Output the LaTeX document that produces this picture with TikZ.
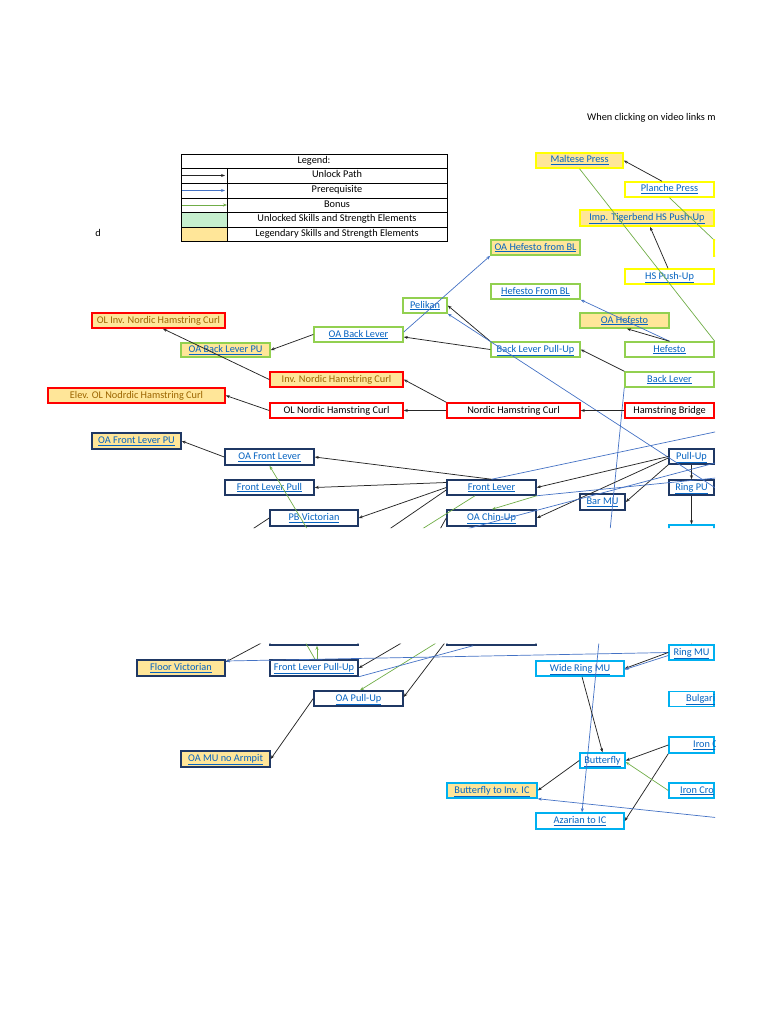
\documentclass[tikz,border=0pt]{standalone}
\usepackage{fontspec}
\setmainfont{Carlito}
\usetikzlibrary{arrows.meta,calc}
\definecolor{xgreen}{HTML}{92D050}
\definecolor{xyellow}{HTML}{FFFF00}
\definecolor{xred}{HTML}{FF0000}
\definecolor{xnavy}{HTML}{1F3864}
\definecolor{xcyan}{HTML}{00B0F0}
\definecolor{xfill}{HTML}{FFE699}
\definecolor{xgfill}{HTML}{C6EFCE}
\definecolor{xlink}{HTML}{0563C1}
\definecolor{xbrown}{HTML}{9C6500}
\definecolor{xblue}{HTML}{4472C4}
\definecolor{xgline}{HTML}{70AD47}
\newcommand\lk[1]{\textcolor{xlink}{\underline{#1}}}
\tikzset{
  bx/.style={draw, line width=1.5pt, inner sep=0pt, fill=white, text height=7pt, text depth=2pt},
  gb/.style={bx, draw=xgreen},
  yb/.style={bx, draw=xyellow},
  rb/.style={bx, draw=xred},
  nb/.style={bx, draw=xnavy},
  cb/.style={bx, draw=xcyan},
  leg/.style={fill=xfill},
  txt/.style={inner sep=0pt, text height=7pt, text depth=2pt},
  ak/.style={line width=0.75pt, draw=black!85, -{Stealth[length=4pt,width=3pt]}},
  kl/.style={line width=0.75pt, draw=black!85},
  ab/.style={line width=0.7pt, draw=xblue, -{Stealth[length=4pt,width=3pt]}},
  bl/.style={line width=0.7pt, draw=xblue},
  ag/.style={line width=0.7pt, draw=xgline, -{Stealth[length=4pt,width=3pt]}},
  gl/.style={line width=0.7pt, draw=xgline},
}
\begin{document}
\begin{tikzpicture}[x=1pt,y=-1pt,font=\fontsize{10.3}{12}\selectfont]
\useasboundingbox (0,0) rectangle (768,1024);
\begin{scope}
\clip (0,0) rectangle (715,528) (0,643.5) rectangle (715,1024);

% header texts
\node[txt, anchor=west] (hint) at (587,118) {When clicking on video links m};
\node[txt] (dd) at (98,234) {d};

% legend
\fill[xgfill] (181,212) rectangle (227,227);
\fill[xfill] (181,227) rectangle (227,241);
\draw[line width=0.8pt] (181,154) rectangle (447,241);
\foreach \yy in {168,183,198,212,227} \draw[line width=0.8pt] (181,\yy) -- (447,\yy);
\draw[line width=0.8pt] (227,168) -- (227,241);
\node[txt] (lg0) at (314,161) {Legend:};
\node[txt] (lg1) at (337,175.5) {Unlock Path};
\node[txt] (lg2) at (337,190.5) {Prerequisite};
\node[txt] (lg3) at (337,205) {Bonus};
\node[txt] (lg4) at (337,219.5) {Unlocked Skills and Strength Elements};
\node[txt] (lg5) at (337,234) {Legendary Skills and Strength Elements};
\coordinate (la1) at (182,175.5); \coordinate (lb1) at (225,175.5);
\coordinate (la2) at (182,190.5); \coordinate (lb2) at (225,190.5);
\coordinate (la3) at (182,205);   \coordinate (lb3) at (227,205);
\draw[ak] (la1) -- (lb1);
\draw[ab] (la2) -- (lb2);
\draw[ag] (la3) -- (lb3);

% yellow group
\node[yb, leg, minimum width=87pt, minimum height=15pt] (maltese) at (579.5,160.5) {\lk{Maltese Press}};
\node[yb, minimum width=89pt, minimum height=15pt] (planche) at (669.5,189.5) {\lk{Planche Press}};
\node[yb, leg, minimum width=134pt, minimum height=16pt] (imp) at (647,218) {\lk{Imp. Tigerbend HS Push-Up}};
\node[yb, minimum width=89pt, minimum height=15pt] (hs) at (669.5,276.5) {\lk{HS Push-Up}};
\node[yb, minimum width=89pt, minimum height=16pt] (yclip) at (758.5,248) {};

% green group
\node[gb, leg, minimum width=89pt, minimum height=15pt] (oahbl) at (535.5,247.5) {\lk{OA Hefesto from BL}};
\node[gb, minimum width=89pt, minimum height=15pt] (hfbl) at (535.5,291.5) {\lk{Hefesto From BL}};
\node[gb, minimum width=44pt, minimum height=15pt] (pelikan) at (425,305.5) {\lk{Pelikan}};
\node[gb, leg, minimum width=89pt, minimum height=15pt] (oah) at (624.5,320.5) {\lk{OA Hefesto}};
\node[gb, minimum width=89pt, minimum height=15pt] (oabl) at (358.5,334.5) {\lk{OA Back Lever}};
\node[gb, leg, minimum width=89pt, minimum height=14pt] (oablpu) at (225.5,350) {\lk{OA Back Lever PU}};
\node[gb, minimum width=89pt, minimum height=15pt] (blpu) at (535.5,349.5) {\lk{Back Lever Pull-Up}};
\node[gb, minimum width=89pt, minimum height=15pt] (hefesto) at (669.5,349.5) {\lk{Hefesto}};
\node[gb, minimum width=89pt, minimum height=15pt] (backlever) at (669.5,379.5) {\lk{Back Lever}};

% red group
\node[rb, leg, text=xbrown, minimum width=133pt, minimum height=15pt] (olinv) at (158.5,320.5) {OL Inv. Nordic Hamstring Curl};
\node[rb, leg, text=xbrown, minimum width=133pt, minimum height=15pt] (invn) at (336.5,379.5) {Inv. Nordic Hamstring Curl};
\node[rb, leg, text=xbrown, minimum width=177pt, minimum height=15pt] (elev) at (136.5,395.5) {Elev. OL Nodrdic Hamstring Curl};
\node[rb, minimum width=133pt, minimum height=15pt] (olnordic) at (336.5,410.5) {OL Nordic Hamstring Curl};
\node[rb, minimum width=133pt, minimum height=15pt] (nordic) at (513.5,410.5) {Nordic Hamstring Curl};
\node[rb, minimum width=89pt, minimum height=15pt] (hb) at (669.5,410.5) {Hamstring Bridge};

% navy group
\node[nb, leg, minimum width=89pt, minimum height=16pt] (oaflpu) at (136.5,441) {\lk{OA Front Lever PU}};
\node[nb, minimum width=89pt, minimum height=16pt] (oafl) at (269.5,457) {\lk{OA Front Lever}};
\node[nb, minimum width=89pt, minimum height=15pt] (flp) at (269.5,487.5) {\lk{Front Lever Pull}};
\node[nb, minimum width=88pt, minimum height=16pt] (pbv) at (314,518) {\lk{PB Victorian}};
\node[nb, minimum width=89pt, minimum height=15pt] (fl) at (491.5,487.5) {\lk{Front Lever}};
\node[nb, minimum width=89pt, minimum height=16pt] (oacu) at (491.5,518) {\lk{OA Chin-Up}};
\node[nb, minimum width=45pt, minimum height=16pt] (barmu) at (602.5,502) {\lk{Bar MU}};
\node[nb, minimum width=45pt, minimum height=15pt] (pullup) at (691.5,456.5) {\lk{Pull-Up}};
\node[nb, minimum width=45pt, minimum height=15pt] (ringpu) at (691.5,487.5) {\lk{Ring PU}};
\node[cb, minimum width=45pt, minimum height=16pt] (ringdip) at (691.5,533) {};

% lower band
\node[nb, minimum width=88pt, minimum height=16pt] (dbA) at (314,637) {};
\node[nb, minimum width=89pt, minimum height=16pt] (dbB) at (491.5,637) {};
\node[nb, leg, minimum width=88pt, minimum height=16pt] (fv) at (181,668) {\lk{Floor Victorian}};
\node[nb, minimum width=88pt, minimum height=16pt] (flpu) at (314,668) {\lk{Front Lever Pull-Up}};
\node[nb, minimum width=89pt, minimum height=15pt] (oapu) at (358.5,698.5) {\lk{OA Pull-Up}};
\node[nb, leg, minimum width=89pt, minimum height=16pt] (oamu) at (225.5,759) {\lk{OA MU no Armpit}};

% cyan group
\node[cb, minimum width=45pt, minimum height=15pt] (ringmu) at (691.5,652.5) {\lk{Ring MU}};
\node[cb, minimum width=88pt, minimum height=15pt] (wrmu) at (580,668.5) {\lk{Wide Ring MU}};
\node[cb, minimum width=45pt, minimum height=15pt] (bulg) at (691.5,699) {};
\node[txt, anchor=west] (bulgt) at (686,699) {\lk{Bulgari}};
\node[cb, minimum width=45pt, minimum height=16pt] (ironc) at (691.5,745) {};
\node[txt, anchor=west] (ironct) at (693,745) {\lk{Iron C}};
\node[cb, minimum width=45pt, minimum height=15pt] (butterfly) at (602.5,760.5) {\lk{Butterfly}};
\node[cb, minimum width=45pt, minimum height=15pt] (ironcro) at (691.5,790.5) {};
\node[txt, anchor=west] (ironcrot) at (680,790.5) {\lk{Iron Cro}};
\node[cb, leg, minimum width=90pt, minimum height=15pt] (biic) at (492,790.5) {\lk{Butterfly to Inv. IC}};
\node[cb, minimum width=88pt, minimum height=16pt] (azarian) at (580,821) {\lk{Azarian to IC}};

% ---- connectors, upper band
\draw[ak] ([xshift=-7.5pt]planche.north) -- (maltese.east);
\draw[ak] ([xshift=-1.5pt]hs.north) -- ([xshift=3pt]imp.south);
\draw[gl] (maltese.south) -- (hefesto.north east);
\draw[gl] (planche.south) -- (yclip.north west);
\draw[ab] ([yshift=2.5pt]oabl.east) -- (oahbl.south west);
\draw[ak] (blpu.north west) -- (pelikan.east);
\draw[ab] (ringpu.east) -- (pelikan.south east);
\draw[ak] (blpu.west) -- ([yshift=-2.5pt]oabl.east);
\draw[ak] (oabl.west) -- (oablpu.east);
\draw[ak] (invn.west) -- ([xshift=4.5pt]olinv.south);
\draw[ab] (hefesto.north) -- (hfbl.south east);
\draw[ak] (hefesto.north) -- ([xshift=2.5pt]oah.south);
\draw[ak] (backlever.north west) -- (blpu.east);
\draw[ab] (backlever.south west) -- ([xshift=2pt]azarian.north);
\draw[ak] (hb.west) -- (nordic.east);
\draw[ak] (nordic.north west) -- (invn.east);
\draw[ak] (nordic.west) -- (olnordic.east);
\draw[ak] (olnordic.west) -- (elev.east);
\draw[ak] (oafl.west) -- (oaflpu.east);
\draw[ak] (fl.north) -- (oafl.east);
\draw[ak] ([yshift=5pt]fl.west) -- (flp.east);
\draw[ak] (fl.west) -- (pbv.east);
\coordinate (g1) at (312,537);
\draw[ag] (g1) -- (oafl.south);
\coordinate (k1) at (248,532);
\draw[kl] (pbv.west) -- (k1);
\coordinate (k2) at (373.5,540);
\draw[kl] ([yshift=-2.5pt]fl.west) -- (k2);
\coordinate (g2) at (404.6,540);
\draw[gl] ([xshift=-16.5pt]fl.south) -- (g2);
\coordinate (k3) at (434,540);
\draw[kl] (oacu.west) -- (k3);
\draw[ag] (fl.south east) -- ([xshift=0.5pt]oacu.north);
\draw[ak] (pullup.west) -- (fl.east);
\draw[ak] ([yshift=-1.5pt]pullup.west) -- (oacu.east);
\draw[ak] (pullup.south west) -- (barmu.east);
\draw[ak] (pullup.south) -- (ringpu.north);
\draw[ak] (ringpu.south) -- (ringdip.north);
\coordinate (rb1) at (730,428.8);
\draw[bl] (rb1) -- (fl.north);
\coordinate (rb2) at (730,459); \coordinate (rb2e) at (440,536);
\draw[bl] (rb2) -- (rb2e);
\coordinate (rb3) at (730,476.6);
\draw[bl] (rb3) -- (fl.south east);

% ---- connectors, lower band
\coordinate (g3) at (441,640);
\draw[ag] (g3) -- ([xshift=1.5pt]oapu.north);
\coordinate (k4) at (406.6,640);
\draw[ak] (k4) -- (flpu.east);
\coordinate (k5) at (267,640);
\draw[ak] (k5) -- ([yshift=6pt]fv.east);
\coordinate (k6) at (447,640);
\draw[ak] (k6) -- ([yshift=1.5pt]oapu.east);
\coordinate (g4) at (304,640);
\draw[gl] ([xshift=1pt]flpu.north) -- (g4);
\draw[ag] ([xshift=3pt]flpu.north) -- ([xshift=3pt]dbA.south);
\draw[bl] (flpu.south east) -- ([xshift=-18.5pt]dbB.south);
\draw[ab] (ringmu.west) -- ([yshift=7pt]fv.east);
\draw[ak] (ringmu.west) -- (wrmu.east);
\draw[ab] ([yshift=-3pt]ringmu.west) -- ([yshift=-1pt]wrmu.east);
\coordinate (k7) at (691.5,630);
\draw[ak] (k7) -- (ringmu.north);
\draw[ak] ([xshift=2pt]wrmu.south) -- (butterfly.north);
\draw[ak] (ironc.west) -- (butterfly.east);
\draw[ak] (ironc.south west) -- (azarian.east);
\draw[ag] (ironcro.west) -- ([yshift=-1.5pt]butterfly.east);
\draw[ak] (butterfly.west) -- (biic.east);
\coordinate (rb4) at (730,819);
\draw[ab] (rb4) -- (biic.south east);
\draw[ak] (oapu.west) -- (oamu.east);
\end{scope}
\end{tikzpicture}
\end{document}
